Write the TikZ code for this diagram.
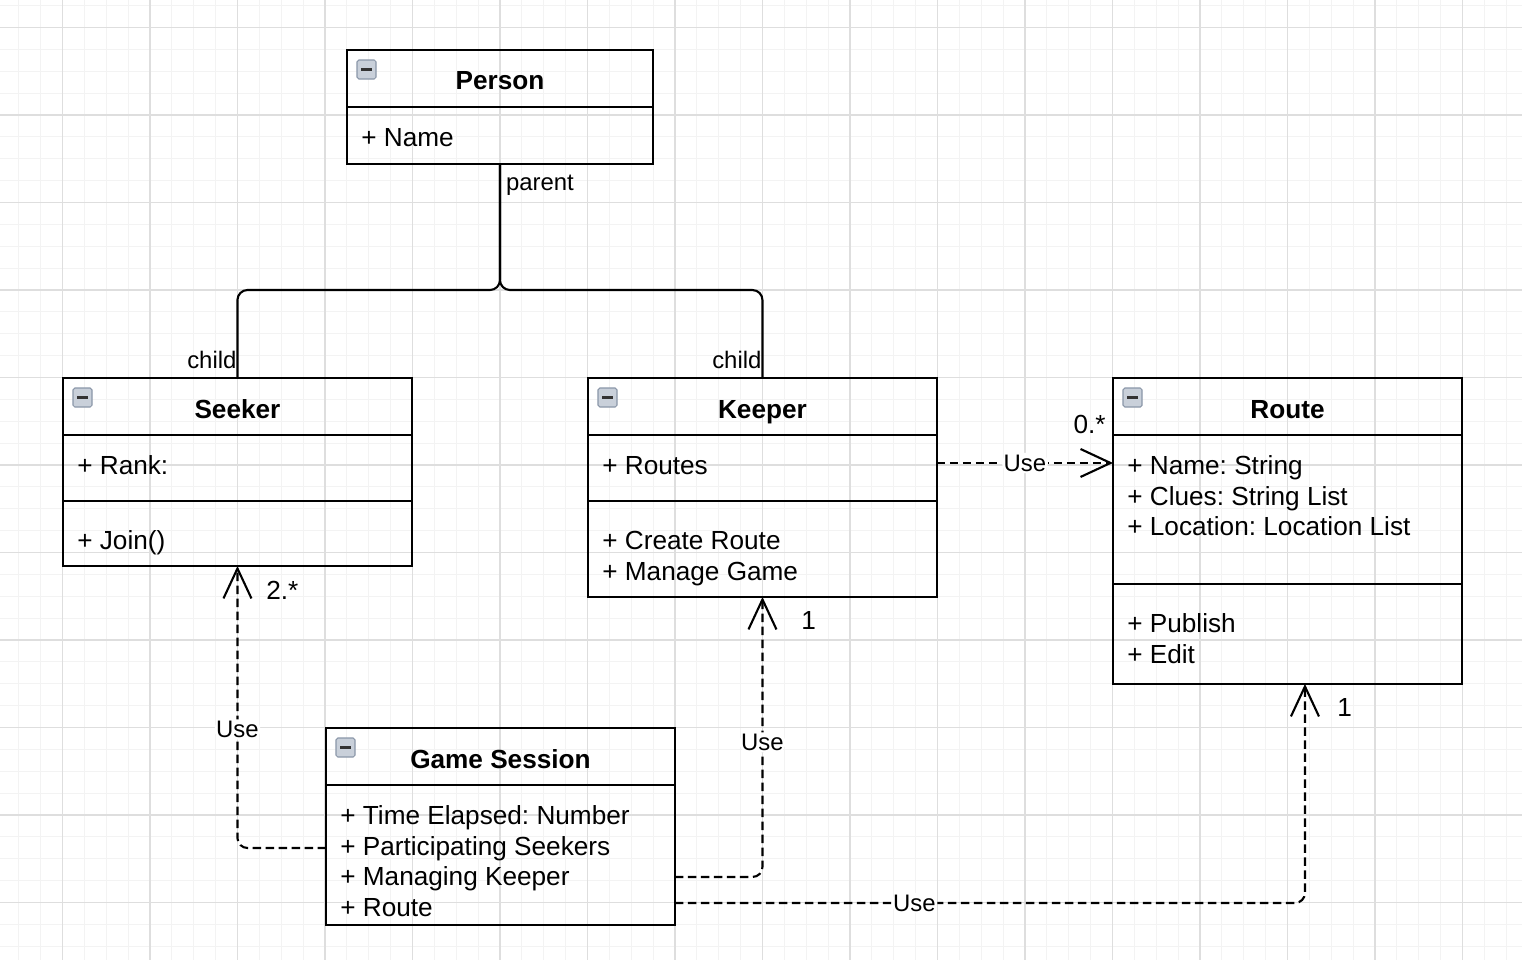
\documentclass[tikz,border=0pt]{standalone}
\usepackage{fontspec}
\setmainfont{Liberation Sans}
\usetikzlibrary{arrows.meta,positioning}
\frenchspacing

\definecolor{gridmajor}{HTML}{DEDEDE}
\definecolor{gridminor}{HTML}{F3F3F3}
\definecolor{iconfill}{HTML}{C9D0DA}
\definecolor{iconedge}{HTML}{8A96A8}
\definecolor{iconbar}{HTML}{333333}

\tikzset{
  classbox/.style={draw, line width=1.5pt, anchor=north west, inner sep=0pt, outer sep=0pt},
  classtitle/.style={anchor=base, inner sep=0pt, font=\bfseries\fontsize{14.9}{17.4}\selectfont},
  members/.style={anchor=north west, align=left, inner sep=0pt, font=\fontsize{14.9}{17.4}\selectfont},
  divider/.style={line width=1.5pt},
  assoc/.style={draw, line width=1.2pt, rounded corners=0.2cm},
  uses/.style={draw, line width=1.2pt, dash pattern=on 0.17cm off 0.09cm, rounded corners=0.2cm,
    -{Straight Barb[length=0.6cm, width=0.56cm]}},
  lbl/.style={fill=white, inner sep=1pt, font=\fontsize{13.6}{16}\selectfont},
  mult/.style={inner sep=0pt, font=\fontsize{14.9}{17.4}\selectfont},
}

% small collapse box in the corner of a class
\newcommand\foldicon[1]{%
  \draw[iconedge, fill=iconfill, rounded corners=1pt, line width=0.6pt]
    ([shift={(10,10)}]#1.north west) rectangle ++(19,19);
  \draw[iconbar, line width=1.6pt] ([shift={(14,19.5)}]#1.north west) -- ++(11,0);
}

\begin{document}
\begin{tikzpicture}[x=0.02cm, y=-0.02cm]
  \useasboundingbox (0,0) rectangle (1522,960);
  \fill[white] (0,0) rectangle (1522,960);

  % grid
  \foreach \gx in {0,...,68}
    \draw[gridminor, line width=0.5pt] (18.75+21.875*\gx,0) -- (18.75+21.875*\gx,960);
  \foreach \gy in {0,...,43}
    \draw[gridminor, line width=0.5pt] (0,5.625+21.875*\gy) -- (1522,5.625+21.875*\gy);
  \foreach \gx in {0,...,16}
    \draw[gridmajor, line width=0.6pt] (62.5+87.5*\gx,0) -- (62.5+87.5*\gx,960);
  \foreach \gy in {0,...,10}
    \draw[gridmajor, line width=0.6pt] (0,27.5+87.5*\gy) -- (1522,27.5+87.5*\gy);

  % Person
  \node[classbox, minimum width=6.12cm, minimum height=2.28cm] (person) at (347,50) {};
  \draw[divider] ([yshift=-1.14cm]person.north west) -- ([yshift=-1.14cm]person.north east);
  \node[classtitle] (person-name) at ([yshift=-0.79cm]person.north) {Person};
  \node[members] (person-attr) at ([shift={(14,75)}]person.north west) {\strut+ Name};
  \foldicon{person}

  % Seeker
  \node[classbox, minimum width=6.98cm, minimum height=3.76cm] (seeker) at (63,378) {};
  \draw[divider] ([yshift=-1.14cm]seeker.north west) -- ([yshift=-1.14cm]seeker.north east);
  \draw[divider] ([yshift=-2.46cm]seeker.north west) -- ([yshift=-2.46cm]seeker.north east);
  \node[classtitle] (seeker-name) at ([yshift=-0.81cm]seeker.north) {Seeker};
  \node[members] (seeker-attr) at ([shift={(14,75)}]seeker.north west) {\strut+ Rank:};
  \node[members] (seeker-ops) at ([shift={(14,150)}]seeker.north west) {\strut+ Join()};
  \foldicon{seeker}

  % Keeper
  \node[classbox, minimum width=6.98cm, minimum height=4.38cm] (keeper) at (588,378) {};
  \draw[divider] ([yshift=-1.14cm]keeper.north west) -- ([yshift=-1.14cm]keeper.north east);
  \draw[divider] ([yshift=-2.46cm]keeper.north west) -- ([yshift=-2.46cm]keeper.north east);
  \node[classtitle] (keeper-name) at ([yshift=-0.81cm]keeper.north) {Keeper};
  \node[members] (keeper-attr) at ([shift={(14,75)}]keeper.north west) {\strut+ Routes};
  \node[members] (keeper-ops) at ([shift={(14,150)}]keeper.north west)
    {\strut+ Create Route\\+ Manage Game};
  \foldicon{keeper}

  % Route
  \node[classbox, minimum width=6.98cm, minimum height=6.12cm] (route) at (1113,378) {};
  \draw[divider] ([yshift=-1.14cm]route.north west) -- ([yshift=-1.14cm]route.north east);
  \draw[divider] ([yshift=-4.12cm]route.north west) -- ([yshift=-4.12cm]route.north east);
  \node[classtitle] (route-name) at ([yshift=-0.81cm]route.north) {Route};
  \node[members] (route-attr) at ([shift={(14,75)}]route.north west)
    {\strut+ Name: String\\+ Clues: String List\\+ Location: Location List};
  \node[members] (route-ops) at ([shift={(14,233)}]route.north west)
    {\strut+ Publish\\+ Edit};
  \foldicon{route}

  % Game Session
  \node[classbox, minimum width=6.98cm, minimum height=3.94cm] (game) at (326,728) {};
  \draw[divider] ([yshift=-1.14cm]game.north west) -- ([yshift=-1.14cm]game.north east);
  \node[classtitle] (game-name) at ([yshift=-0.81cm]game.north) {Game Session};
  \node[members] (game-attr) at ([shift={(14,75)}]game.north west)
    {\strut+ Time Elapsed: Number\\+ Participating Seekers\\+ Managing Keeper\\+ Route};
  \foldicon{game}

  % inheritance
  \draw[assoc] (person.south) node[anchor=north west, inner xsep=0.1cm, inner ysep=0.2cm, font=\fontsize{13.6}{16}\selectfont] {parent}
    |- ([yshift=1.76cm]seeker.north) -- (seeker.north)
    node[anchor=south east, inner xsep=0pt, inner ysep=0.16cm, font=\fontsize{13.6}{16}\selectfont] {child};
  \draw[assoc] (person.south) |- ([yshift=1.76cm]keeper.north) -- (keeper.north)
    node[anchor=south east, inner xsep=0pt, inner ysep=0.16cm, font=\fontsize{13.6}{16}\selectfont] {child};

  % dependencies
  \coordinate (keeper-use) at ([yshift=0.49cm]keeper.east);
  \draw[uses] (keeper-use) -- node[lbl] {Use} (route.west |- keeper-use);
  \draw[uses] ([yshift=-0.43cm]game.west) -| node[lbl, pos=0.71] {Use} (seeker.south);
  \draw[uses] ([yshift=-1.01cm]game.east) -| node[lbl, pos=0.74] {Use} (keeper.south);
  \draw[uses] ([yshift=-1.53cm]game.east) -| node[lbl, pos=0.19] {Use} ([xshift=0.35cm]route.south);

  % multiplicities
  \node[mult, anchor=west] (seeker-mult) at ([shift={(28.5,24)}]seeker.south) {2.*};
  \node[mult, anchor=west] (keeper-mult) at ([shift={(38.5,24)}]keeper.south) {1};
  \node[mult, anchor=west] (route-mult) at ([shift={(49.5,24)}]route.south) {1};
  \node[mult, anchor=east] (route-many) at ([shift={(-7,46)}]route.north west) {0.*};
\end{tikzpicture}
\end{document}
